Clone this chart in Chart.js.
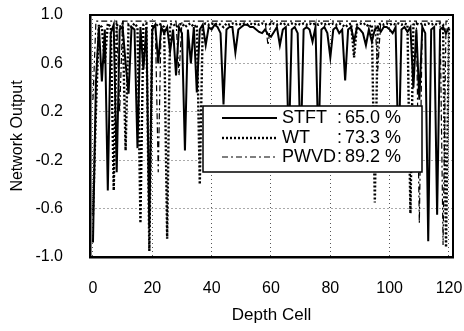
<!DOCTYPE html>
<html lang="en">
<head>
  <meta charset="UTF-8" />
  <title>Network Output vs Depth Cell</title>
  <script src="https://cdn.jsdelivr.net/npm/chart.js"></script>
  <style>
    html, body { margin: 0; padding: 0; background: #fff; }
    #wrap { width: 464px; height: 331px; }
  </style>
</head>
<body>
  <div id="wrap"><canvas id="netChart" width="464" height="331"></canvas></div>

  <script>
    // depth cells 0..120
    const depthCells = Array.from({ length: 121 }, (_, i) => i);
    const xTicks = [0, 20, 40, 60, 80, 100, 120];
    const yTicks = [-1.0, -0.6, -0.2, 0.2, 0.6, 1.0];

    const seriesNames = ["STFT", "WT", "PWVD"];
    const seriesScores = ["65.0 %", "73.3 %", "89.2 %"];

    const stft = [
      -0.88, 0.45, 0.90, 0.45, 0.88, -0.45, 0.85, 0.92, -0.30, 0.88,
      0.90, 0.60, 0.35, 0.90, 0.88, -0.10, 0.90, 0.55, 0.90, -0.75,
      0.88, 0.92, 0.60, 0.90, 0.85, 0.90, 0.70, 0.88, 0.50, 0.90,
      0.85, -0.12, 0.88, 0.60, 0.90, 0.36, 0.88, 0.92, 0.75, 0.90,
      0.88, 0.92, 0.90, 0.85, 0.26, 0.88, 0.90, 0.90, 0.69, 0.88,
      0.90, 0.92, 0.92, 0.90, 0.90, 0.88, 0.86, 0.85, 0.88, 0.84,
      0.82, 0.86, 0.90, 0.75, 0.88, 0.90, -0.10, 0.88, 0.90, 0.85,
      -0.15, 0.88, 0.90, 0.88, 0.78, 0.90, -0.10, 0.88, 0.90, 0.85,
      0.65, 0.88, 0.90, 0.85, 0.88, 0.46, 0.88, 0.90, 0.78, 0.90,
      0.88, 0.85, 0.75, 0.88, 0.78, 0.88, 0.90, 0.86, 0.90, 0.90,
      0.88, 0.85, 0.90, -0.20, 0.88, 0.90, 0.86, 0.90, 0.40, 0.88,
      0.30, 0.90, 0.85, -0.87, 0.88, 0.90, -0.65, 0.88, 0.90, 0.85,
      0.90
    ];

    const wt = [
      -0.65, 0.20, 0.92, 0.90, 0.60, 0.93, 0.90, -0.45, 0.92, 0.90,
      0.93, -0.12, 0.92, 0.90, 0.93, 0.90, -0.72, 0.92, 0.93, -0.95,
      0.92, 0.90, 0.93, 0.92, 0.90, -0.85, 0.92, 0.93, 0.90, 0.92,
      0.93, 0.90, 0.92, 0.93, 0.90, 0.92, -0.40, 0.92, 0.93, 0.92,
      0.93, 0.92, 0.93, 0.92, 0.90, 0.93, 0.92, 0.93, 0.92, 0.93,
      0.92, 0.93, 0.92, 0.93, 0.92, 0.93, 0.92, 0.93, 0.92, 0.93,
      0.92, 0.93, 0.92, 0.93, 0.92, 0.93, 0.92, 0.93, 0.92, 0.93,
      0.92, 0.93, 0.92, 0.93, 0.92, 0.93, 0.92, 0.93, 0.92, 0.93,
      0.92, 0.93, 0.92, 0.93, 0.92, 0.90, 0.92, 0.93, 0.65, 0.92,
      0.93, 0.92, 0.93, 0.90, 0.92, -0.55, 0.92, 0.93, 0.92, 0.93,
      0.92, 0.93, 0.92, 0.93, 0.92, 0.93, 0.92, -0.64, 0.92, 0.93,
      0.92, 0.93, 0.92, 0.93, 0.92, 0.93, 0.92, 0.93, 0.92, -0.92,
      0.90
    ];

    const pwvd = [
      0.30, 0.95, 0.95, 0.95, 0.95, 0.95, 0.95, 0.95, 0.95, 0.20,
      0.95, 0.95, 0.95, 0.95, 0.95, 0.95, 0.95, 0.95, 0.95, 0.95,
      0.95, 0.95, -0.30, 0.95, 0.95, 0.95, 0.95, 0.95, 0.95, 0.50,
      0.95, 0.95, 0.95, 0.95, 0.95, 0.95, 0.95, 0.95, 0.95, 0.95,
      0.95, 0.95, 0.95, 0.95, 0.95, 0.95, 0.95, 0.95, 0.95, 0.95,
      0.95, 0.95, 0.95, 0.95, 0.95, 0.95, 0.95, 0.95, 0.95, 0.75,
      0.95, 0.95, 0.95, 0.95, 0.95, 0.95, 0.95, 0.95, 0.95, 0.95,
      0.95, 0.95, 0.95, 0.95, 0.95, 0.95, 0.95, 0.95, 0.95, 0.95,
      0.95, 0.95, 0.95, 0.95, 0.95, 0.95, 0.95, 0.95, 0.95, 0.95,
      0.95, 0.95, 0.95, 0.95, 0.95, 0.95, 0.55, 0.95, 0.95, 0.95,
      0.95, 0.95, 0.95, 0.95, 0.95, 0.95, 0.95, 0.95, 0.95, 0.95,
      -0.72, 0.95, 0.95, 0.95, 0.95, 0.95, 0.95, 0.95, -0.90, 0.95,
      0.95
    ];

    const FONT = "'Liberation Sans', Arial, sans-serif";
    const toPoints = arr => arr.map((y, i) => ({ x: depthCells[i], y }));

    // frame on top/right + legend box drawn over the lines
    const frameAndLegend = {
      id: "frameAndLegend",
      afterDatasetsDraw(chart) {
        const { ctx, chartArea: a } = chart;
        ctx.save();
        ctx.strokeStyle = "#000";
        ctx.lineWidth = 2;
        ctx.beginPath();
        ctx.moveTo(a.left, a.top);
        ctx.lineTo(a.right, a.top);
        ctx.lineTo(a.right, a.bottom);
        ctx.stroke();

        const bx = a.left + 113, by = a.top + 91, bw = 219, bh = 66;
        ctx.fillStyle = "#fff";
        ctx.fillRect(bx, by, bw, bh);
        ctx.lineWidth = 1.5;
        ctx.strokeRect(bx, by, bw, bh);

        const rows = [by + 12, by + 32, by + 51];
        const dashes = [[], [2, 2], [6, 3, 2, 3]];
        const widths = [2, 2.4, 1.2];
        ctx.fillStyle = "#000";
        ctx.font = "18px " + FONT;
        ctx.textBaseline = "middle";
        rows.forEach((ry, i) => {
          ctx.setLineDash(dashes[i]);
          ctx.lineWidth = widths[i];
          ctx.beginPath();
          ctx.moveTo(bx + 19, ry);
          ctx.lineTo(bx + 74, ry);
          ctx.stroke();
          ctx.setLineDash([]);
          ctx.fillText(seriesNames[i], bx + 79, ry);
          ctx.fillText(":", bx + 134, ry);
          ctx.fillText(seriesScores[i], bx + 142, ry);
        });
        ctx.restore();
      }
    };

    new Chart(document.getElementById("netChart"), {
      type: "line",
      data: {
        datasets: [
          { label: "PWVD", data: toPoints(pwvd), borderColor: "#000", borderWidth: 1.2, borderDash: [6, 3, 2, 3] },
          { label: "WT", data: toPoints(wt), borderColor: "#000", borderWidth: 2.4, borderDash: [2, 2] },
          { label: "STFT", data: toPoints(stft), borderColor: "#000", borderWidth: 2 }
        ]
      },
      options: {
        responsive: false,
        animation: false,
        events: [],
        elements: { point: { radius: 0 }, line: { tension: 0 } },
        layout: { padding: { top: 15, right: 11, left: 0, bottom: 0 } },
        plugins: { legend: { display: false }, tooltip: { enabled: false } },
        scales: {
          x: {
            type: "linear",
            min: -1,
            max: 121.35,
            afterBuildTicks: s => { s.ticks = xTicks.map(v => ({ value: v })); },
            afterFit: s => { s.height = 74; },
            ticks: { color: "#000", padding: 0, font: { family: FONT, size: 16 }, maxRotation: 0 },
            grid: { color: "#555", lineWidth: 1, drawTicks: true, tickLength: 22, tickColor: "rgba(0,0,0,0)" },
            border: { display: true, color: "#000", width: 2.5, dash: [1, 3] },
            title: { display: true, text: "Depth Cell", color: "#000", font: { family: FONT, size: 17 }, padding: { top: 0, bottom: 5 } }
          },
          y: {
            min: -1,
            max: 1,
            afterBuildTicks: s => { s.ticks = yTicks.map(v => ({ value: v })); },
            afterFit: s => { s.width = 90; },
            ticks: { color: "#000", padding: 0, font: { family: FONT, size: 16 }, callback: v => v.toFixed(1) },
            grid: { color: "#555", lineWidth: 1, drawTicks: true, tickLength: 27, tickColor: "rgba(0,0,0,0)" },
            border: { display: true, color: "#000", width: 2.5, dash: [1, 3] },
            title: { display: true, text: "Network Output", color: "#000", font: { family: FONT, size: 16 }, padding: { top: 8, bottom: 0 } }
          }
        }
      },
      plugins: [frameAndLegend]
    });
  </script>
</body>
</html>
